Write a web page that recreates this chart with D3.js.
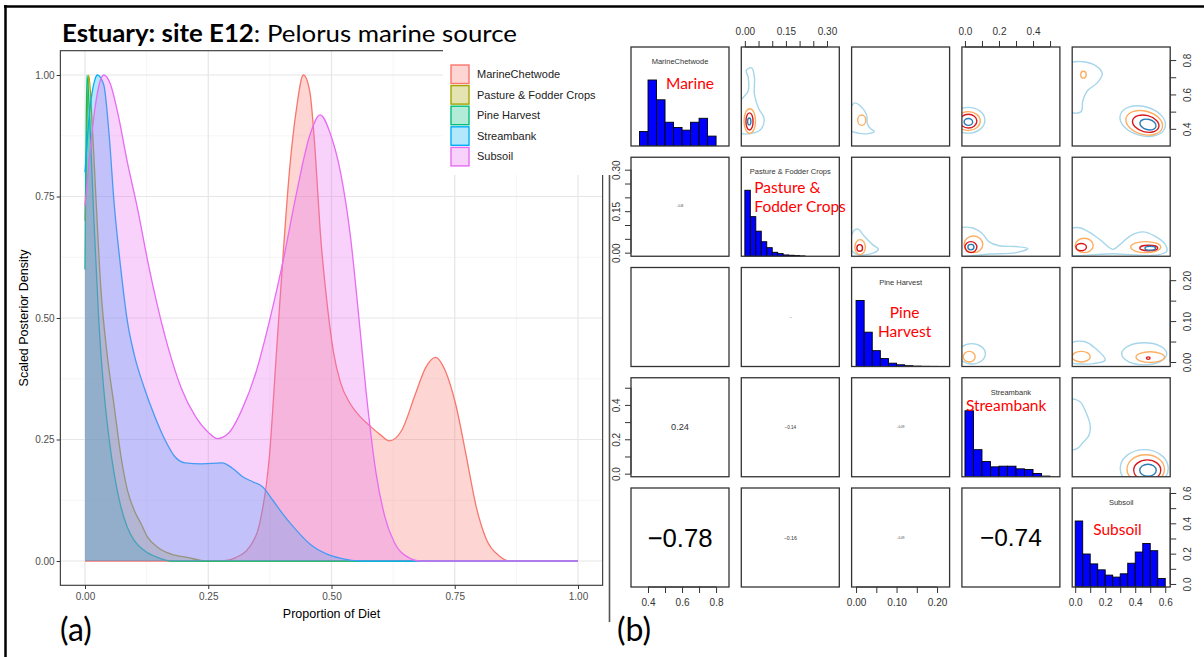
<!DOCTYPE html>
<html>
<head>
<meta charset="utf-8">
<script src="https://cdn.jsdelivr.net/npm/d3@7"></script>
<style>
  body { margin: 0; background: #fff; }
  svg { display: block; }
</style>
</head>
<body>
<div id="fig"></div>
<script>
// svg definitions
let svgWidth = 1204;
let svgHeight = 657;

// sources and their ggplot colours
let sources = ['MarineChetwode', 'Pasture & Fodder Crops', 'Pine Harvest', 'Streambank', 'Subsoil'];
let sourceColors = ['#F8766D', '#A3A500', '#00BF7D', '#00B0F6', '#E76BF3'];

// panel (a): scaled posterior density, [proportion of diet, density]
let marineDens = [[0, 0], [0.28, 0], [0.306, 0.007], [0.333, 0.028], [0.354, 0.076], [0.374, 0.215], [0.388, 0.424],
  [0.402, 0.632], [0.415, 0.806], [0.429, 0.931], [0.443, 1.0], [0.456, 0.966], [0.467, 0.841], [0.477, 0.68],
  [0.491, 0.53], [0.504, 0.43], [0.518, 0.368], [0.539, 0.322], [0.559, 0.296], [0.58, 0.276], [0.6, 0.259],
  [0.617, 0.247], [0.642, 0.268], [0.67, 0.343], [0.691, 0.398], [0.711, 0.419], [0.731, 0.391], [0.752, 0.322],
  [0.773, 0.218], [0.793, 0.114], [0.814, 0.045], [0.841, 0.01], [0.862, 0], [1, 0]];
let pastureDens = [[0, 0.7], [0.004, 0.9], [0.0075, 1.0], [0.014, 0.911], [0.021, 0.771], [0.032, 0.563], [0.045, 0.424],
  [0.059, 0.32], [0.073, 0.215], [0.086, 0.146], [0.1, 0.104], [0.114, 0.076], [0.127, 0.049], [0.148, 0.028],
  [0.175, 0.014], [0.21, 0.007], [0.244, 0], [1, 0]];
let pineDens = [[0, 0.6], [0.002, 0.85], [0.004, 1.0], [0.011, 0.876], [0.018, 0.702], [0.028, 0.493], [0.038, 0.354],
  [0.049, 0.25], [0.059, 0.181], [0.073, 0.111], [0.086, 0.069], [0.1, 0.042], [0.121, 0.021], [0.148, 0.007],
  [0.175, 0], [1, 0]];
let streamDens = [[0, 0.8], [0.01, 0.93], [0.02, 0.99], [0.025, 1.0], [0.038, 0.98], [0.049, 0.876], [0.059, 0.737],
  [0.073, 0.598], [0.086, 0.493], [0.1, 0.424], [0.121, 0.354], [0.141, 0.299], [0.162, 0.25], [0.182, 0.215],
  [0.203, 0.202], [0.237, 0.2], [0.278, 0.202], [0.299, 0.191], [0.319, 0.174], [0.34, 0.163], [0.36, 0.153],
  [0.381, 0.125], [0.401, 0.097], [0.429, 0.063], [0.456, 0.035], [0.491, 0.014], [0.532, 0.003], [0.56, 0], [1, 0]];
let subsoilDens = [[0, 0.73], [0.01, 0.84], [0.02, 0.93], [0.03, 0.985], [0.038, 1.0], [0.052, 0.98], [0.066, 0.924],
  [0.086, 0.82], [0.107, 0.723], [0.127, 0.618], [0.148, 0.521], [0.169, 0.438], [0.196, 0.354], [0.223, 0.299],
  [0.251, 0.264], [0.268, 0.252], [0.292, 0.264], [0.319, 0.313], [0.347, 0.389], [0.374, 0.493], [0.402, 0.618],
  [0.429, 0.757], [0.456, 0.876], [0.477, 0.918], [0.498, 0.878], [0.518, 0.801], [0.539, 0.663], [0.556, 0.496],
  [0.573, 0.322], [0.59, 0.183], [0.608, 0.092], [0.628, 0.037], [0.655, 0.008], [0.68, 0], [1, 0]];
let densities = [marineDens, pastureDens, pineDens, streamDens, subsoilDens];

// panel (a) ticks
let dietTicks = [0, 0.25, 0.5, 0.75, 1];
let minorTicks = [0.125, 0.375, 0.625, 0.875];

// panel (b): pairs plot variables, axis ranges and ticks
let pairLabels = [['Marine'], ['Pasture &', 'Fodder Crops'], ['Pine', 'Harvest'], ['Streambank'], ['Subsoil']];
let pairDomains = [[0.30, 0.876], [-0.013, 0.345], [-0.011, 0.231], [-0.018, 0.558], [-0.02, 0.633]];
let pairTicks = [[0.4, 0.5, 0.6, 0.7, 0.8], [0, 0.05, 0.1, 0.15, 0.2, 0.25, 0.3], [0, 0.05, 0.1, 0.15, 0.2],
  [0, 0.1, 0.2, 0.3, 0.4, 0.5], [0, 0.1, 0.2, 0.3, 0.4, 0.5, 0.6]];
let pairTickLabels = [[0.4, 0.6, 0.8], [0, 0.15, 0.3], [0, 0.1, 0.2], [0, 0.2, 0.4], [0, 0.2, 0.4, 0.6]];
let tickFormats = ['.1f', '.2f', '.2f', '.1f', '.1f'];

// diagonal histograms: bin edges and bar heights relative to the tallest bar
let marineBreaks = [0.35, 0.40, 0.45, 0.50, 0.55, 0.60, 0.65, 0.70, 0.75, 0.80];
let marineHist = [0.22, 1.0, 0.70, 0.36, 0.28, 0.24, 0.36, 0.42, 0.15];
let pastureBreaks = [0, 0.02, 0.04, 0.06, 0.08, 0.10, 0.12, 0.14, 0.16, 0.18, 0.20, 0.22];
let pastureHist = [1.0, 0.6, 0.38, 0.22, 0.13, 0.06, 0.04, 0.02, 0.015, 0.01, 0.005];
let pineBreaks = [0, 0.02, 0.04, 0.06, 0.08, 0.10, 0.12, 0.14, 0.16, 0.18, 0.20, 0.22];
let pineHist = [1.0, 0.52, 0.24, 0.12, 0.05, 0.026, 0.012, 0.006, 0.003, 0.002, 0.001];
let streamBreaks = [0, 0.05, 0.10, 0.15, 0.20, 0.25, 0.30, 0.35, 0.40, 0.45, 0.50];
let streamHist = [1.0, 0.41, 0.23, 0.15, 0.16, 0.16, 0.12, 0.11, 0.05, 0.01];
let subsoilBreaks = [0, 0.05, 0.10, 0.15, 0.20, 0.25, 0.30, 0.35, 0.40, 0.45, 0.50, 0.55, 0.60];
let subsoilHist = [1.0, 0.5, 0.35, 0.26, 0.18, 0.15, 0.2, 0.36, 0.53, 0.66, 0.55, 0.13];
let histBreaks = [marineBreaks, pastureBreaks, pineBreaks, streamBreaks, subsoilBreaks];
let histCounts = [marineHist, pastureHist, pineHist, streamHist, subsoilHist];

// lower panels: correlations [row, col, r]
let correlations = [[1, 0, -0.08], [2, 1, -0.03], [3, 0, 0.24], [3, 1, -0.14], [3, 2, -0.09],
  [4, 0, -0.78], [4, 1, -0.16], [4, 2, -0.09], [4, 3, -0.74]];

// upper panels: density contours, level 0 = outermost
let contourColors = ['#a6d6ea', '#fdae61', '#d7191c', '#2c7bb6'];
// nested rings [row, col, level, cx, cy, rx, ry, tilt]
let contourRings = [
  [0, 1, 1, 0.018, 0.445, 0.021, 0.072, 0], [0, 1, 2, 0.017, 0.443, 0.013, 0.05, 0], [0, 1, 3, 0.016, 0.443, 0.006, 0.02, 0],
  [0, 2, 1, 0.014, 0.45, 0.01, 0.03, 0],
  [0, 3, 0, 0.02, 0.45, 0.097, 0.075, 0], [0, 3, 1, 0.02, 0.445, 0.07, 0.055, 0], [0, 3, 2, 0.02, 0.445, 0.05, 0.04, 0],
  [0, 3, 3, 0.02, 0.44, 0.025, 0.02, 0],
  [0, 4, 1, 0.055, 0.715, 0.018, 0.02, 0], [0, 4, 0, 0.45, 0.445, 0.155, 0.085, 15], [0, 4, 1, 0.46, 0.435, 0.125, 0.068, 15],
  [0, 4, 2, 0.47, 0.43, 0.09, 0.048, 15], [0, 4, 3, 0.485, 0.425, 0.055, 0.03, 15],
  [1, 2, 1, 0.01, 0.02, 0.013, 0.027, 0], [1, 2, 2, 0.009, 0.017, 0.007, 0.012, 0],
  [1, 3, 1, 0.05, 0.03, 0.055, 0.03, 0], [1, 3, 2, 0.035, 0.02, 0.035, 0.02, 0], [1, 3, 3, 0.035, 0.02, 0.018, 0.01, 0],
  [1, 4, 1, 0.06, 0.026, 0.06, 0.026, 0], [1, 4, 2, 0.04, 0.02, 0.035, 0.013, 0], [1, 4, 1, 0.47, 0.02, 0.1, 0.02, 0],
  [1, 4, 2, 0.49, 0.017, 0.06, 0.01, 0], [1, 4, 3, 0.5, 0.016, 0.035, 0.007, 0],
  [2, 3, 0, 0.04, 0.02, 0.08, 0.025, 0], [2, 3, 1, 0.025, 0.013, 0.035, 0.013, 0],
  [2, 4, 0, 0.46, 0.02, 0.15, 0.027, 0], [2, 4, 1, 0.04, 0.013, 0.06, 0.013, 0], [2, 4, 1, 0.5, 0.012, 0.095, 0.013, 0],
  [2, 4, 2, 0.487, 0.0095, 0.012, 0.003, 0],
  [3, 4, 0, 0.46, 0.03, 0.16, 0.11, 0], [3, 4, 1, 0.47, 0.025, 0.125, 0.085, 0], [3, 4, 2, 0.48, 0.02, 0.09, 0.06, 0],
  [3, 4, 3, 0.485, 0.02, 0.055, 0.035, 0]
];
// irregular outer contours [row, col, points]
let contourOutlines = [
  [0, 1, [[0.005, 0.74], [0.025, 0.755], [0.035, 0.70], [0.035, 0.60], [0.05, 0.52], [0.07, 0.46], [0.06, 0.40],
    [0.03, 0.375], [-0.02, 0.38], [-0.02, 0.55], [0.012, 0.62], [0.012, 0.70]]],
  [0, 2, [[-0.005, 0.55], [0.012, 0.53], [0.026, 0.48], [0.028, 0.43], [0.036, 0.4], [0.045, 0.385], [0.03, 0.372],
    [0.005, 0.375], [-0.02, 0.40]]],
  [0, 4, [[-0.03, 0.78], [0.05, 0.79], [0.14, 0.765], [0.18, 0.72], [0.15, 0.67], [0.08, 0.62], [0.05, 0.56],
    [0.04, 0.5], [-0.03, 0.5]]],
  [1, 2, [[-0.005, 0.08], [0.005, 0.085], [0.02, 0.06], [0.04, 0.03], [0.055, 0.012], [0.045, 0.0], [0.02, -0.008],
    [0.0, -0.005], [-0.015, 0.02]]],
  [1, 3, [[-0.03, 0.085], [0.04, 0.09], [0.1, 0.07], [0.14, 0.04], [0.2, 0.025], [0.3, 0.022], [0.37, 0.015],
    [0.3, 0.0], [0.15, -0.005], [0.05, -0.01], [-0.03, -0.01]]],
  [1, 4, [[-0.03, 0.085], [0.03, 0.09], [0.09, 0.075], [0.17, 0.045], [0.25, 0.012], [0.3, 0.03], [0.37, 0.062],
    [0.45, 0.075], [0.53, 0.06], [0.6, 0.03], [0.61, 0.005], [0.55, -0.008], [0.4, -0.008], [0.25, -0.004],
    [0.1, -0.008], [-0.03, -0.005]]],
  [2, 4, [[-0.03, 0.045], [0.06, 0.05], [0.13, 0.035], [0.2, 0.005], [0.12, -0.004], [0.05, -0.005], [-0.03, 0.0]]],
  [3, 4, [[-0.03, 0.43], [0.03, 0.42], [0.07, 0.36], [0.1, 0.28], [0.09, 0.22], [0.05, 0.18], [0.02, 0.15],
    [-0.03, 0.14]]]
];

// red labels over the diagonal panels (offsets inside the panel)
let redLabelPos = [[35, 42, 'start'], [13, 36, 'start'], [53, 50, 'middle'], [4, 33, 'start'], [21, 47, 'start']];

let svg = d3.select('#fig').append('svg')
  .attr('width', svgWidth)
  .attr('height', svgHeight)
  .style('font-family', '"Liberation Sans", Arial, sans-serif');

svg.append('rect').attr('width', svgWidth).attr('height', svgHeight).attr('fill', '#fff');
let defs = svg.append('defs');

// ---------------- panel (a) ----------------
let xDiet = d3.scaleLinear().domain([0, 1]).range([85, 578]);
let yDens = d3.scaleLinear().domain([0, 1]).range([561, 75]);
let px0 = xDiet(-0.05), px1 = xDiet(1.05), py0 = yDens(1.05), py1 = yDens(-0.05);

let panelA = svg.append('g');

// grid
minorTicks.forEach(t => {
  panelA.append('line').attr('x1', xDiet(t)).attr('x2', xDiet(t)).attr('y1', py0).attr('y2', py1)
    .attr('stroke', '#f0f0f0').attr('stroke-width', 0.7);
  panelA.append('line').attr('x1', px0).attr('x2', px1).attr('y1', yDens(t)).attr('y2', yDens(t))
    .attr('stroke', '#f0f0f0').attr('stroke-width', 0.7);
});
dietTicks.forEach(t => {
  panelA.append('line').attr('x1', xDiet(t)).attr('x2', xDiet(t)).attr('y1', py0).attr('y2', py1)
    .attr('stroke', '#e6e6e6').attr('stroke-width', 1.2);
  panelA.append('line').attr('x1', px0).attr('x2', px1).attr('y1', yDens(t)).attr('y2', yDens(t))
    .attr('stroke', '#e6e6e6').attr('stroke-width', 1.2);
});

// density areas, each group fill then outline
let densArea = d3.area()
  .x(d => xDiet(d[0]))
  .y0(yDens(0))
  .y1(d => yDens(d[1]))
  .curve(d3.curveMonotoneX);
let densLine = d3.line()
  .x(d => xDiet(d[0]))
  .y(d => yDens(d[1]))
  .curve(d3.curveMonotoneX);

densities.forEach((dens, i) => {
  panelA.append('path').attr('d', densArea(dens))
    .attr('fill', sourceColors[i]).attr('fill-opacity', 0.3);
  panelA.append('path').attr('d', densLine(dens))
    .attr('fill', 'none').attr('stroke', sourceColors[i]).attr('stroke-width', 1.3);
});

// panel border
panelA.append('rect')
  .attr('x', px0).attr('y', py0).attr('width', px1 - px0).attr('height', py1 - py0)
  .attr('fill', 'none').attr('stroke', '#333').attr('stroke-width', 1.1);

// axes
let xAxisA = panelA.append('g')
  .attr('transform', `translate(0, ${py1})`)
  .call(d3.axisBottom(xDiet).tickValues(dietTicks).tickFormat(d3.format('.2f')).tickSize(3.7).tickPadding(4));
let yAxisA = panelA.append('g')
  .attr('transform', `translate(${px0}, 0)`)
  .call(d3.axisLeft(yDens).tickValues(dietTicks).tickFormat(d3.format('.2f')).tickSize(3.7).tickPadding(2));
[xAxisA, yAxisA].forEach(a => {
  a.select('.domain').remove();
  a.selectAll('line').attr('stroke', '#333');
  a.selectAll('text').attr('fill', '#4d4d4d').style('font-size', '10px');
});

panelA.append('text')
  .attr('x', (px0 + px1) / 2).attr('y', 618)
  .attr('text-anchor', 'middle')
  .style('font-size', '12.5px')
  .text('Proportion of Diet');
panelA.append('text')
  .attr('transform', `translate(28, ${(py0 + py1) / 2}) rotate(-90)`)
  .attr('text-anchor', 'middle')
  .style('font-size', '12.5px')
  .text('Scaled Posterior Density');

// legend on a white box
let legend = svg.append('g');
legend.append('rect').attr('x', 443).attr('y', 40).attr('width', 170).attr('height', 135).attr('fill', '#fff');
sources.forEach((s, i) => {
  let ly = 65 + i * 20.6;
  legend.append('rect').attr('x', 451).attr('y', ly).attr('width', 18).attr('height', 18.5)
    .attr('fill', '#fff');
  legend.append('rect').attr('x', 451).attr('y', ly).attr('width', 18).attr('height', 18.5)
    .attr('fill', sourceColors[i]).attr('fill-opacity', 0.3)
    .attr('stroke', sourceColors[i]).attr('stroke-width', 1.4);
  legend.append('text').attr('x', 477).attr('y', ly + 13)
    .attr('fill', '#222').style('font-size', '11px').text(s);
});

// right edge of the left picture
svg.append('line').attr('x1', 609.5).attr('x2', 609.5).attr('y1', 175).attr('y2', 622)
  .attr('stroke', '#555').attr('stroke-width', 1.6);

// title
let title = svg.append('text')
  .attr('x', 62).attr('y', 42)
  .attr('textLength', 455).attr('lengthAdjust', 'spacingAndGlyphs')
  .style('font-family', 'Lato, "Open Sans", sans-serif')
  .style('font-size', '24px')
  .attr('fill', '#000');
title.append('tspan').style('font-weight', 'bold').text('Estuary: site E12');
title.append('tspan').text(': Pelorus marine source');

// ---------------- panel (b) ----------------
let pairX = 631, pairY = 47, stepX = 110.3, stepY = 110.25, pairW = 98, pairH = 99;
let xs = pairDomains.map(d => d3.scaleLinear().domain(d).range([0, pairW]));
let ys = pairDomains.map(d => d3.scaleLinear().domain(d).range([pairH, 0]));
let histY = d3.scaleLinear().domain([0, 1.5]).range([pairH, 0]);
let outlineLine = d3.line().curve(d3.curveCatmullRomClosed.alpha(0.5));

function pairAxis(cell, side, k) {
  let scale = (side === 'top' || side === 'bottom') ? xs[k] : ys[k];
  let ax = side === 'top' ? d3.axisTop(scale) : side === 'bottom' ? d3.axisBottom(scale)
    : side === 'left' ? d3.axisLeft(scale) : d3.axisRight(scale);
  ax.tickValues(pairTicks[k]).tickSize(6).tickSizeOuter(0).tickPadding(side === 'bottom' ? 6 : side === 'top' ? 6 : 3)
    .tickFormat(d => pairTickLabels[k].some(l => Math.abs(l - d) < 1e-9) ? d3.format(tickFormats[k])(d) : '');
  let pos = side === 'bottom' ? `translate(0, ${pairH})` : side === 'right' ? `translate(${pairW}, 0)` : null;
  let a = cell.append('g').attr('transform', pos).call(ax);
  a.select('.domain').remove();
  // unlabelled ticks keep no text
  a.selectAll('text').filter(function() { return this.textContent === ''; }).remove();
  let first = scale(pairTicks[k][0]), last = scale(pairTicks[k][pairTicks[k].length - 1]);
  if (side === 'top' || side === 'bottom') {
    a.append('line').attr('x1', first).attr('x2', last).attr('y1', 0).attr('y2', 0);
  } else {
    a.append('line').attr('x1', 0).attr('x2', 0).attr('y1', first).attr('y2', last);
  }
  a.selectAll('line').attr('stroke', '#333').attr('stroke-width', 1);
  a.selectAll('text').attr('fill', '#333').style('font-size', '10px');
  if (side === 'left' || side === 'right') {
    a.selectAll('text')
      .attr('text-anchor', 'middle')
      .attr('x', null).attr('dy', null)
      .attr('transform', side === 'right' ? 'translate(21, 0) rotate(-90)' : 'translate(-11, 0) rotate(-90)');
  }
}

let pairG = svg.append('g');
for (let i = 0; i < 5; i++) {
  for (let j = 0; j < 5; j++) {
    let cell = pairG.append('g')
      .attr('transform', `translate(${pairX + j * stepX}, ${pairY + i * stepY})`);
    let cid = `clip-${i}-${j}`;
    defs.append('clipPath').attr('id', cid)
      .append('rect').attr('width', pairW).attr('height', pairH);
    let inner = cell.append('g').attr('clip-path', `url(#${cid})`);

    if (i === j) {
      // histogram
      inner.selectAll('.bar')
        .data(histCounts[i])
        .enter()
        .append('rect')
        .attr('x', (d, k) => xs[i](histBreaks[i][k]))
        .attr('width', (d, k) => xs[i](histBreaks[i][k + 1]) - xs[i](histBreaks[i][k]))
        .attr('y', d => histY(d))
        .attr('height', d => pairH - histY(d))
        .attr('fill', '#0000ff').attr('stroke', '#000').attr('stroke-width', 0.9);
      inner.append('text')
        .attr('x', pairW / 2).attr('y', 17)
        .attr('text-anchor', 'middle')
        .attr('fill', '#333').style('font-size', '7.5px')
        .text(sources[i]);
      let lp = redLabelPos[i];
      pairLabels[i].forEach((t, k) => {
        cell.append('text')
          .attr('x', lp[0]).attr('y', lp[1] + k * 19)
          .attr('text-anchor', lp[2])
          .attr('fill', '#ff0000')
          .style('font-family', 'Lato, "Open Sans", sans-serif')
          .style('font-size', '15.5px')
          .text(t);
      });
    }
    if (j > i) {
      contourOutlines.filter(c => c[0] === i && c[1] === j).forEach(c => {
        inner.append('path')
          .attr('d', outlineLine(c[2].map(p => [xs[j](p[0]), ys[i](p[1])])))
          .attr('fill', 'none').attr('stroke', contourColors[0]).attr('stroke-width', 1.4);
      });
      contourRings.filter(c => c[0] === i && c[1] === j).forEach(c => {
        let cx = xs[j](c[3]), cy = ys[i](c[4]);
        inner.append('ellipse')
          .attr('cx', cx).attr('cy', cy)
          .attr('rx', xs[j](c[3] + c[5]) - cx)
          .attr('ry', cy - ys[i](c[4] + c[6]))
          .attr('transform', `rotate(${c[7]}, ${cx}, ${cy})`)
          .attr('fill', 'none').attr('stroke', contourColors[c[2]]).attr('stroke-width', 1.4);
      });
    }
    if (i > j) {
      correlations.filter(c => c[0] === i && c[1] === j).forEach(c => {
        // text size follows |r|, scaled by string width like R's panel.cor (no minus sign = wider factor)
        let size = 33 * Math.abs(c[2]) * (c[2] > 0 ? 1.17 : 1);
        inner.append('text')
          .attr('x', pairW / 2).attr('y', pairH / 2)
          .attr('text-anchor', 'middle').attr('dominant-baseline', 'central')
          .attr('fill', Math.abs(c[2]) > 0.5 ? '#000' : '#333')
          .style('font-size', `${size}px`)
          .text(d3.format('.2f')(c[2]).replace('-', '\u2212'));
      });
    }

    cell.append('rect').attr('width', pairW).attr('height', pairH)
      .attr('fill', 'none').attr('stroke', '#333').attr('stroke-width', 1.3);

    // axes on alternate sides, as R pairs() does
    if (i === 0 && j % 2 === 1) pairAxis(cell, 'top', j);
    if (i === 4 && j % 2 === 0) pairAxis(cell, 'bottom', j);
    if (j === 0 && i % 2 === 1) pairAxis(cell, 'left', i);
    if (j === 4 && i % 2 === 0) pairAxis(cell, 'right', i);
  }
}

// panel letters
svg.append('text').attr('x', 60).attr('y', 641)
  .style('font-family', 'Lato, "Open Sans", sans-serif').style('font-size', '32px').text('(a)');
svg.append('text').attr('x', 617).attr('y', 641)
  .style('font-family', 'Lato, "Open Sans", sans-serif').style('font-size', '32px').text('(b)');

// frame of the figure
svg.append('line').attr('x1', 4).attr('x2', svgWidth).attr('y1', 6.5).attr('y2', 6.5)
  .attr('stroke', '#000').attr('stroke-width', 2.5);
svg.append('line').attr('x1', 5.5).attr('x2', 5.5).attr('y1', 5).attr('y2', svgHeight)
  .attr('stroke', '#000').attr('stroke-width', 2.5);
</script>
</body>
</html>
